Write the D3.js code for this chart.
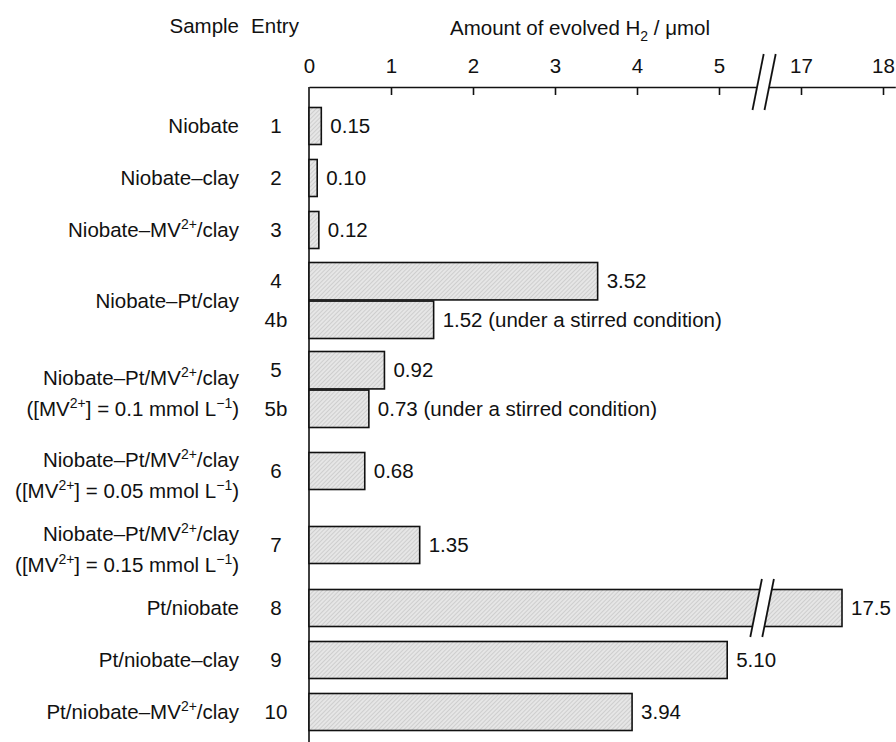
<!DOCTYPE html>
<html>
<head>
<meta charset="utf-8">
<script src="https://cdn.jsdelivr.net/npm/d3@7"></script>
<style>
  body { margin: 0; background: #fff; }
  text { font-family: "Liberation Sans", Arial, sans-serif; fill: #111; }
</style>
</head>
<body>
<div id="chart"></div>
<script>
// sample names, ^{..} marks a superscript, \n a second line
const sampleNames = [
  "Niobate",
  "Niobate–clay",
  "Niobate–MV^{2+}/clay",
  "Niobate–Pt/clay",
  "Niobate–Pt/MV^{2+}/clay\n([MV^{2+}] = 0.1 mmol L^{−1})",
  "Niobate–Pt/MV^{2+}/clay\n([MV^{2+}] = 0.05 mmol L^{−1})",
  "Niobate–Pt/MV^{2+}/clay\n([MV^{2+}] = 0.15 mmol L^{−1})",
  "Pt/niobate",
  "Pt/niobate–clay",
  "Pt/niobate–MV^{2+}/clay"
];
const entries = [["1"], ["2"], ["3"], ["4", "4b"], ["5", "5b"], ["6"], ["7"], ["8"], ["9"], ["10"]];
const amounts = [[0.15], [0.10], [0.12], [3.52, 1.52], [0.92, 0.73], [0.68], [1.35], [17.5], [5.10], [3.94]];
const valueLabels = [["0.15"], ["0.10"], ["0.12"],
  ["3.52", "1.52 (under a stirred condition)"],
  ["0.92", "0.73 (under a stirred condition)"],
  ["0.68"], ["1.35"], ["17.5"], ["5.10"], ["3.94"]];
const xTicks = [0, 1, 2, 3, 4, 5, 17, 18];
const axisBreak = [5.55, 16.55];

const width = 896, height = 742;
const pxPerUnit = 82;
const x0 = 309, axisY = 87;
const barH = 37;
const fs = 20.5;

const svg = d3.select("#chart").append("svg")
  .attr("width", width)
  .attr("height", height);

const defs = svg.append("defs");
const pat = defs.append("pattern")
  .attr("id", "hatch")
  .attr("patternUnits", "userSpaceOnUse")
  .attr("width", 3).attr("height", 3)
  .attr("patternTransform", "rotate(45)");
pat.append("rect").attr("width", 3).attr("height", 3).attr("fill", "#e6e6e6");
pat.append("line").attr("x1", 0).attr("y1", 0).attr("x2", 0).attr("y2", 3)
  .attr("stroke", "#a9a9a9").attr("stroke-width", 0.8);

// broken x scale
const xBreakPx = x0 + axisBreak[0] * pxPerUnit;
const xEnd = 18.15;
const x = d3.scaleLinear()
  .domain([0, axisBreak[0], axisBreak[1], xEnd])
  .range([x0, xBreakPx, xBreakPx, xBreakPx + (xEnd - axisBreak[1]) * pxPerUnit]);

// rows: height of each sample group
const nLines = sampleNames.map(s => s.split("\n").length);
const groupH = entries.map((e, i) => Math.max(e.length * barH + 15, nLines[i] * 37));
const groupTop = [0, ...d3.cumsum(groupH)].map(v => v + 100);
const groupMid = groupH.map((h, i) => groupTop[i] + h / 2);

function richText(sel, str) {
  const parts = str.split(/(\^\{[^}]*\})/).filter(p => p.length);
  let shift = 0;
  parts.forEach(p => {
    if (p.startsWith("^{")) {
      sel.append("tspan").attr("dy", -8).attr("font-size", 14).text(p.slice(2, -1));
      shift = 8;
    } else {
      const t = sel.append("tspan").text(p);
      if (shift) t.attr("dy", shift);
      shift = 0;
    }
  });
}

// headers
svg.append("text").attr("x", 239).attr("y", 33).attr("text-anchor", "end")
  .attr("font-size", fs).text("Sample");
svg.append("text").attr("x", 275).attr("y", 33).attr("text-anchor", "middle")
  .attr("font-size", fs).text("Entry");
const title = svg.append("text").attr("x", 580).attr("y", 35).attr("text-anchor", "middle")
  .attr("font-size", fs);
title.append("tspan").text("Amount of evolved H");
title.append("tspan").attr("dy", 6).attr("font-size", 14).text("2");
title.append("tspan").attr("dy", -6).text(" / μmol");

// top axis, ticks point down
const axis = d3.axisTop(x)
  .tickValues(xTicks)
  .tickSizeInner(-8)
  .tickSizeOuter(0)
  .tickPadding(14)
  .tickFormat(d3.format("d"));
const gAxis = svg.append("g").attr("transform", `translate(0,${axisY})`).call(axis);
gAxis.select(".domain").attr("stroke", "#111").attr("stroke-width", 1.6);
gAxis.selectAll(".tick line").attr("stroke", "#111").attr("stroke-width", 1.6);
gAxis.selectAll(".tick text").attr("font-size", fs).attr("fill", "#111")
  .attr("font-family", '"Liberation Sans", Arial, sans-serif');
gAxis.selectAll(".tick").filter(d => d === 0).select("line").remove();

// left vertical line
svg.append("line").attr("x1", x0).attr("x2", x0).attr("y1", axisY).attr("y2", height)
  .attr("stroke", "#111").attr("stroke-width", 1.6);

function breakMark(cx, cy, half) {
  const slant = half * 0.2, gap = 12;
  const g = svg.append("g");
  g.append("path")
    .attr("d", `M${cx - gap / 2 - slant},${cy + half} L${cx - gap / 2 + slant},${cy - half} L${cx + gap / 2 + slant},${cy - half} L${cx + gap / 2 - slant},${cy + half} Z`)
    .attr("fill", "#fff");
  [-1, 1].forEach(s => {
    g.append("line")
      .attr("x1", cx + s * gap / 2 - slant).attr("y1", cy + half)
      .attr("x2", cx + s * gap / 2 + slant).attr("y2", cy - half)
      .attr("stroke", "#111").attr("stroke-width", 1.8);
  });
}
breakMark(xBreakPx, axisY - 5, 28);

// bars
const bars = [];
entries.forEach((e, gi) => {
  const n = e.length;
  const yb = d3.scaleBand().domain(e)
    .range([groupMid[gi] - n * barH / 2 - (n - 1), groupMid[gi] + n * barH / 2 + (n - 1)])
    .paddingInner(n > 1 ? 0.03 : 0);
  e.forEach((id, j) => bars.push({
    group: gi, id: id, value: amounts[gi][j], label: valueLabels[gi][j],
    y: yb(id), h: yb.bandwidth()
  }));
});

svg.append("g").selectAll("rect").data(bars).join("rect")
  .attr("x", x(0))
  .attr("y", d => d.y)
  .attr("width", d => x(d.value) - x(0))
  .attr("height", d => d.h)
  .attr("fill", "url(#hatch)")
  .attr("stroke", "#111")
  .attr("stroke-width", 1.6);

svg.append("g").selectAll("text").data(bars).join("text")
  .attr("x", d => x(d.value) + 9)
  .attr("y", d => d.y + d.h / 2)
  .attr("dy", "0.35em")
  .attr("font-size", fs)
  .text(d => d.label);

// break on the long bar
bars.filter(d => d.value > axisBreak[1]).forEach(d => breakMark(xBreakPx - 2, d.y + d.h / 2, 29));

// entry labels
svg.append("g").selectAll("text").data(bars).join("text")
  .attr("x", 276)
  .attr("y", d => entries[d.group].length > 1 ? d.y + d.h / 2 : groupMid[d.group])
  .attr("dy", "0.35em")
  .attr("text-anchor", "middle")
  .attr("font-size", fs)
  .text(d => d.id);

// sample labels
sampleNames.forEach((s, gi) => {
  const lines = s.split("\n");
  lines.forEach((ln, k) => {
    const cy = lines.length === 1 ? groupMid[gi] : groupMid[gi] + 4 + (k - 0.5) * 31;
    const t = svg.append("text")
      .attr("x", 239)
      .attr("y", cy)
      .attr("dy", "0.35em")
      .attr("text-anchor", "end")
      .attr("font-size", fs);
    richText(t, ln);
  });
});
</script>
</body>
</html>
